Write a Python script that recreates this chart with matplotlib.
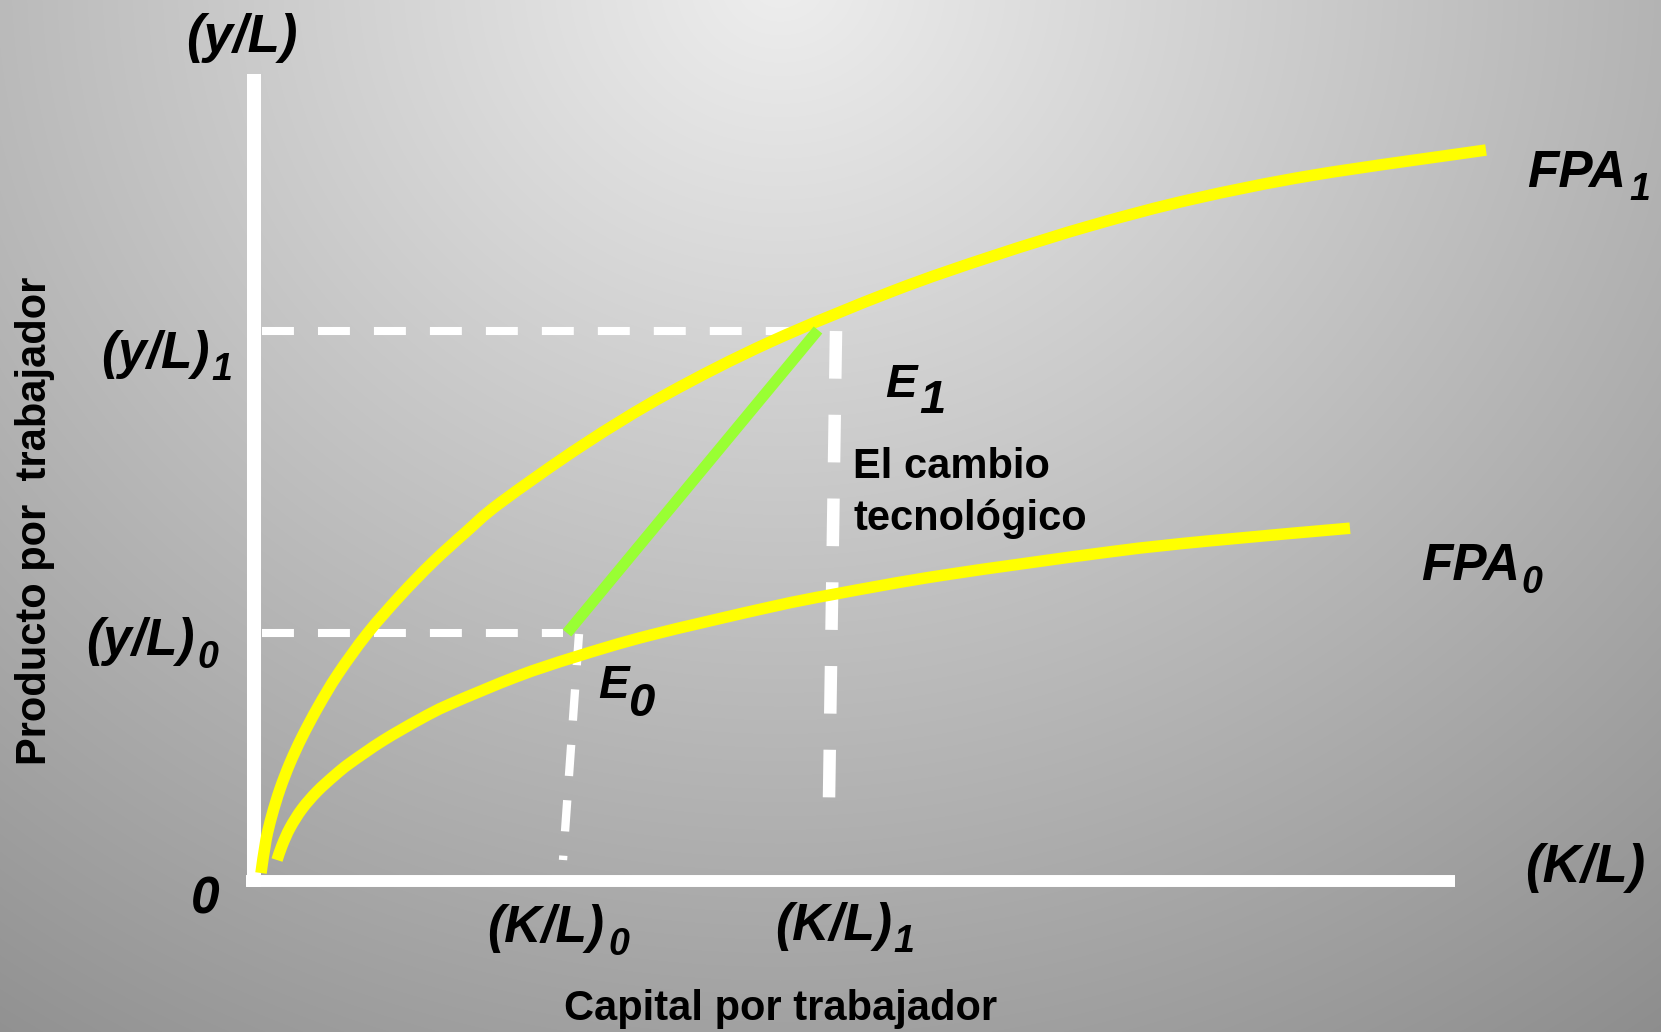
import numpy as np
import matplotlib
matplotlib.use("Agg")
import matplotlib.pyplot as plt
from matplotlib.path import Path
from matplotlib.patches import PathPatch

plt.rcParams['lines.scale_dashes'] = False

# ---------------- data (K/L on x, y/L on y) ----------------
fpa1_k = [0.075, 0.125, 0.185, 0.265, 0.365, 0.485, 0.645, 0.845, 1.135, 1.465, 1.795,
          2.125, 2.465, 3.295, 4.135, 5.165, 6.395, 7.395, 8.395, 9.395, 10.605, 12.325]
fpa1_y = [0.099, 0.508, 0.818, 1.140, 1.462, 1.784, 2.156, 2.565, 3.061, 3.532, 3.953,
          4.325, 4.684, 5.403, 6.035, 6.679, 7.311, 7.745, 8.129, 8.451, 8.748, 9.058]

fpa0_k = [0.235, 0.285, 0.365, 0.485, 0.635, 0.815, 0.965, 1.295, 1.665, 1.965, 2.635,
          3.215, 3.965, 5.165, 5.825, 6.895, 8.565, 9.535, 10.965]
fpa0_y = [0.260, 0.439, 0.658, 0.893, 1.108, 1.312, 1.461, 1.740, 2.005, 2.191, 2.534,
          2.776, 3.045, 3.394, 3.558, 3.789, 4.079, 4.212, 4.372]

# equilibrium points E0 -> E1 (technological change)
change_k = [3.135, 5.645]
change_y = [3.073, 6.828]

# guide (dashed) lines
h1_k, h1_y = [0.085, 5.435], [6.815, 6.815]     # (y/L)1
h0_k, h0_y = [0.085, 3.095], [3.073, 3.073]     # (y/L)0
v1_k, v1_y = [5.825, 5.755], [6.815, 1.016]     # (K/L)1
v0_k, v0_y = [3.255, 3.095], [3.061, 0.260]     # (K/L)0

# axes extents
axis_k = [-0.075, 12.015]
axis_y = [-0.074, 10.0]

# ---------------- figure ----------------
W, H, DPI = 1661, 1032, 100
fig = plt.figure(figsize=(W / DPI, H / DPI), dpi=DPI)
ax = fig.add_axes([0, 0, 1, 1])
xlim = (-2.535, 14.075)
ylim = (-1.871, 10.917)

# radial grey background
yy, xx = np.mgrid[0:H, 0:W]
d = np.sqrt(((xx - 780) / 1.1) ** 2 + (yy + 20) ** 2)
v = np.clip(238 - 0.073 * d, 120, 240) / 255.0
img = np.dstack([v, v, v])
ax.imshow(img, extent=(xlim[0], xlim[1], ylim[0], ylim[1]), origin='upper',
          aspect='auto', zorder=0, interpolation='bilinear')

ax.set_xlim(*xlim)
ax.set_ylim(*ylim)
ax.axis('off')


def smooth_curve(xs, ys, **kw):
    """Draw a smooth Bezier path (Catmull-Rom style) through the read points."""
    P = np.column_stack([xs, ys]).astype(float)
    n = len(P)
    verts = [P[0]]
    codes = [Path.MOVETO]
    for i in range(n - 1):
        p0 = P[i - 1] if i > 0 else P[i]
        p1 = P[i]
        p2 = P[i + 1]
        p3 = P[i + 2] if i + 2 < n else P[i + 1]
        c1 = p1 + (p2 - p0) / 6.0
        c2 = p2 - (p3 - p1) / 6.0
        verts += [c1, c2, p2]
        codes += [Path.CURVE4] * 3
    patch = PathPatch(Path(verts, codes), fill=False, **kw)
    ax.add_patch(patch)


# axes lines
ax.plot([0, 0], axis_y, color='white', lw=10.1, solid_capstyle='butt', zorder=2)
ax.plot(axis_k, [0, 0], color='white', lw=8.6, solid_capstyle='butt', zorder=2)

# dashed guides
ax.plot(h1_k, h1_y, color='white', lw=5.8, linestyle=(0, (23, 17.3)),
        dash_capstyle='butt', zorder=2)
ax.plot(h0_k, h0_y, color='white', lw=5.8, linestyle=(0, (23, 17.3)),
        dash_capstyle='butt', zorder=2)
ax.plot(v1_k, v1_y, color='white', lw=9.0, linestyle=(0, (34.3, 26)),
        dash_capstyle='butt', zorder=2)
ax.plot(v0_k, v0_y, color='white', lw=6.0, linestyle=(0, (22.5, 17.5)),
        dash_capstyle='butt', zorder=2)

# production functions
smooth_curve(fpa1_k, fpa1_y, edgecolor='#FFFF00', lw=8.3, capstyle='butt',
             joinstyle='round', zorder=3)
smooth_curve(fpa0_k, fpa0_y, edgecolor='#FFFF00', lw=8.3, capstyle='butt',
             joinstyle='round', zorder=3)

# technological change
ax.plot(change_k, change_y, color='#99FF33', lw=8.0, solid_capstyle='butt', zorder=4)

# ---------------- texts ----------------
BI = dict(family='Liberation Sans', weight='bold', style='italic', color='black')


def put(px, py, s, size, **kw):
    opts = dict(BI)
    opts.update(kw)
    fig.text(px / W, 1 - py / H, s, fontsize=size, ha='left', va='baseline', **opts)


put(186, 52, '(y/L)', 38)
put(101, 368, '(y/L)', 37)
put(211, 380, '1', 27)
put(86, 655, '(y/L)', 37)
put(197, 668, '0', 27)
put(191, 913, '0', 37)
put(1525, 882, '(K/L)', 38)
put(487, 942, '(K/L)', 37)
put(608, 955, '0', 27)
put(775, 940, '(K/L)', 37)
put(893, 952, '1', 27)
put(885, 397, 'E', 34)
put(919, 413, '1', 34)
put(598, 698, 'E', 33)
put(628, 716, '0', 34)
put(853, 478, 'El cambio', 30, style='normal')
put(853, 530, 'tecnológico', 30, style='normal')
put(1527, 187, 'FPA', 37)
put(1629, 200, '1', 27)
put(1421, 580, 'FPA', 37)
put(1521, 593, '0', 27)
put(564, 1020, 'Capital por trabajador', 30, style='normal')
fig.text(46 / W, 1 - 521 / H, 'Producto por  trabajador', rotation=90,
         rotation_mode='anchor', ha='center', va='baseline', fontsize=30,
         family='Liberation Sans', weight='bold', color='black')

fig.savefig('out.png', dpi=DPI)
